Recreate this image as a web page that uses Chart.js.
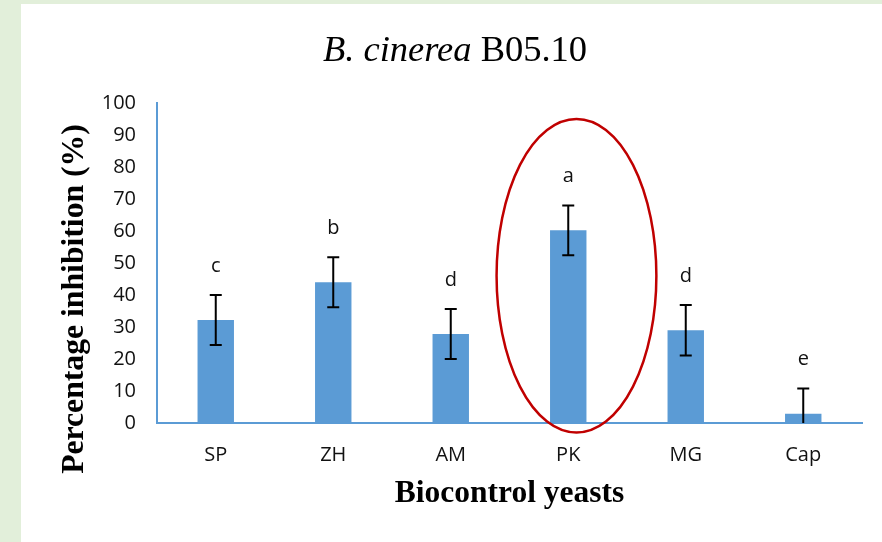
<!DOCTYPE html>
<html lang="en">
<head>
    <meta charset="UTF-8">
    <title>B. cinerea B05.10</title>
    <script src="https://cdn.jsdelivr.net/npm/chart.js"></script>
    <style>
        body {
            margin: 0;
            background-color: #E2EFDA;
            width: 882px;
            height: 542px;
            overflow: hidden;
        }
        .panel {
            position: absolute;
            left: 21px;
            top: 4px;
            width: 861px;
            height: 538px;
            background-color: white;
        }
    </style>
</head>
<body>
    <div class="panel">
        <canvas id="inhibitionChart" width="861" height="538"></canvas>
    </div>

    <script>
        // Data
        const yeasts = ['SP', 'ZH', 'AM', 'PK', 'MG', 'Cap'];
        const inhibition = [32.2, 44.0, 27.8, 60.2, 29.0, 2.9];
        const errors = [7.8, 7.8, 7.8, 7.8, 7.9, 7.9];
        const groups = ['c', 'b', 'd', 'a', 'd', 'e'];
        const yTicks = [0, 10, 20, 30, 40, 50, 60, 70, 80, 90, 100];

        const highlighted = 'PK';   // category circled in red
        const highlightTop = 95;
        const highlightBottom = -3;

        const tickFont = { family: "'Open Sans', sans-serif", size: 20 };

        // error bars + significance letters
        const errorBarPlugin = {
            id: 'errorBars',
            afterDatasetsDraw(chart) {
                const ctx = chart.ctx;
                const x = chart.scales.x;
                const y = chart.scales.y;
                const area = chart.chartArea;
                ctx.save();
                ctx.beginPath();
                ctx.rect(area.left, 0, area.right - area.left, area.bottom);
                ctx.clip();
                ctx.strokeStyle = '#000';
                ctx.lineWidth = 2;
                inhibition.forEach((v, i) => {
                    const px = x.getPixelForValue(i);
                    const top = y.getPixelForValue(v + errors[i]);
                    const bot = y.getPixelForValue(v - errors[i]);
                    ctx.beginPath();
                    ctx.moveTo(px, top);
                    ctx.lineTo(px, bot);
                    ctx.moveTo(px - 6, top);
                    ctx.lineTo(px + 6, top);
                    if (v - errors[i] > 0) {
                        ctx.moveTo(px - 6, bot);
                        ctx.lineTo(px + 6, bot);
                    }
                    ctx.stroke();
                });
                ctx.restore();

                ctx.save();
                ctx.fillStyle = '#111';
                ctx.font = "20px 'Open Sans', sans-serif";
                ctx.textAlign = 'center';
                ctx.textBaseline = 'middle';
                groups.forEach((g, i) => {
                    const px = x.getPixelForValue(i);
                    const top = y.getPixelForValue(inhibition[i] + errors[i]);
                    ctx.fillText(g, px, top - 29);
                });
                ctx.restore();
            }
        };

        // titles and the red ellipse
        const decorPlugin = {
            id: 'decor',
            afterDraw(chart) {
                const ctx = chart.ctx;
                const x = chart.scales.x;
                const y = chart.scales.y;

                // chart title, mixed italic / regular
                ctx.save();
                ctx.fillStyle = '#000';
                ctx.textBaseline = 'alphabetic';
                const part1 = 'B. cinerea';
                const part2 = ' B05.10';
                ctx.font = "italic 36.5px 'Liberation Serif', serif";
                const w1 = ctx.measureText(part1).width;
                ctx.font = "36.5px 'Liberation Serif', serif";
                const w2 = ctx.measureText(part2).width;
                let tx = 434 - (w1 + w2) / 2;
                ctx.font = "italic 36.5px 'Liberation Serif', serif";
                ctx.fillText(part1, tx, 57);
                ctx.font = "36.5px 'Liberation Serif', serif";
                ctx.fillText(part2, tx + w1, 57);
                ctx.restore();

                // y axis title
                ctx.save();
                ctx.translate(62, 295);
                ctx.rotate(-Math.PI / 2);
                ctx.font = "bold 31.7px 'Liberation Serif', serif";
                ctx.fillStyle = '#000';
                ctx.textAlign = 'center';
                ctx.textBaseline = 'alphabetic';
                ctx.fillText('Percentage inhibition (%)', 0, 0);
                ctx.restore();

                // ellipse round the best yeast
                const idx = yeasts.indexOf(highlighted);
                const step = x.getPixelForValue(1) - x.getPixelForValue(0);
                const cx = x.getPixelForValue(idx) + 0.07 * step;
                const yTop = y.getPixelForValue(highlightTop);
                const yBot = y.getPixelForValue(highlightBottom);
                ctx.save();
                ctx.strokeStyle = '#C00000';
                ctx.lineWidth = 2.5;
                ctx.beginPath();
                ctx.ellipse(cx, (yTop + yBot) / 2, 0.68 * step, (yBot - yTop) / 2, 0, 0, Math.PI * 2);
                ctx.stroke();
                ctx.restore();
            }
        };

        const ctx = document.getElementById('inhibitionChart').getContext('2d');
        const chart = new Chart(ctx, {
            type: 'bar',
            data: {
                labels: yeasts,
                datasets: [{
                    data: inhibition,
                    backgroundColor: '#5B9BD5',
                    borderWidth: 0,
                    barPercentage: 0.31,
                    categoryPercentage: 1
                }]
            },
            options: {
                responsive: false,
                animation: false,
                layout: {
                    padding: { top: 99, right: 20, bottom: 0, left: 0 }
                },
                plugins: {
                    legend: { display: false },
                    tooltip: { enabled: false }
                },
                scales: {
                    x: {
                        grid: { display: false, drawTicks: false },
                        border: { display: true, color: '#5B9BD5', width: 2 },
                        ticks: { font: tickFont, color: '#111', padding: 20 },
                        title: {
                            display: true,
                            text: 'Biocontrol yeasts',
                            font: { family: "'Liberation Serif', serif", size: 31.5, weight: 'bold' },
                            color: '#000',
                            padding: { top: 0, bottom: 29 }
                        },
                        afterFit(scale) { scale.height = 119; }
                    },
                    y: {
                        min: 0,
                        max: 100,
                        afterBuildTicks(scale) {
                            scale.ticks = yTicks.map(v => ({ value: v }));
                        },
                        grid: { display: false, drawTicks: false },
                        border: { display: true, color: '#5B9BD5', width: 2 },
                        ticks: { font: tickFont, color: '#111', padding: 21 },
                        afterFit(scale) { scale.width = 136; }
                    }
                }
            },
            plugins: [errorBarPlugin, decorPlugin]
        });
    </script>
</body>
</html>
